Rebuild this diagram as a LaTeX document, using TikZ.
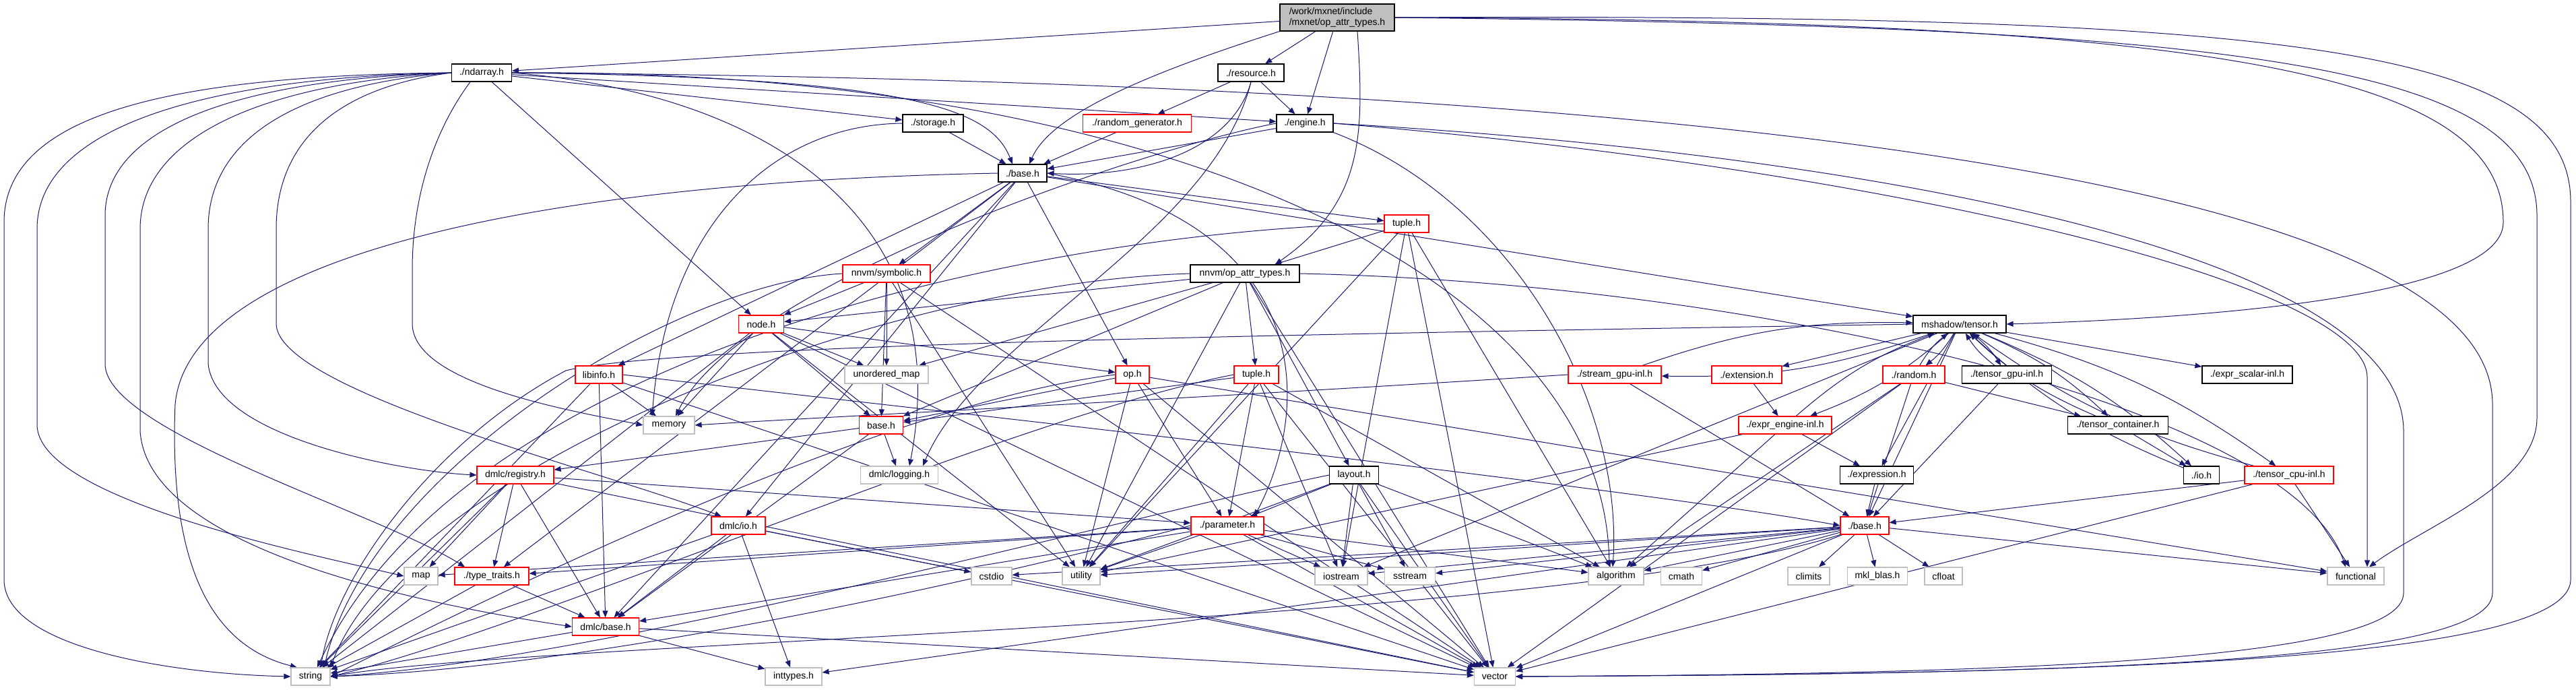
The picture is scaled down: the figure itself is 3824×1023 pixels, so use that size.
\documentclass[tikz,border=0pt]{standalone}
\usepackage{fontspec}
\newfontfamily\dxf{Liberation Sans}
\usetikzlibrary{arrows.meta,calc}
\definecolor{edgec}{RGB}{25,25,112}
\definecolor{graybd}{RGB}{191,191,191}
\definecolor{mainfill}{RGB}{191,191,191}
\pgfdeclarelayer{bg}
\pgfsetlayers{bg,main}
\begin{document}
\begin{tikzpicture}[x=1pt,y=1pt,
 box/.style={rectangle, draw, minimum height=26pt, inner sep=0pt, line width=1.2pt, font=\dxf\fontsize{14pt}{16pt}\selectfont, fill=white},
 rb/.style={box, draw=red},
 bb/.style={box, draw=black},
 gb/.style={box, draw=graybd},
 e/.style={draw=edgec, line width=1pt, -{Triangle[length=10pt,width=8pt]}}]
\useasboundingbox (0,0) rectangle (3824,-1023);
\node[bb, fill=mainfill, minimum width=170pt, minimum height=40pt, align=left] (main) at (1985,-26) {/work/mxnet/include\\/mxnet/op\_attr\_types.h};
\node[bb, minimum width=89pt] (ndarray) at (715,-108) {./ndarray.h};
\node[bb, minimum width=98pt] (resource) at (1857,-108) {./resource.h};
\node[bb, minimum width=90pt] (storage) at (1385,-183) {./storage.h};
\node[rb, minimum width=161pt] (randgen) at (1688,-183) {./random\_generator.h};
\node[bb, minimum width=84pt] (engine) at (1937,-183) {./engine.h};
\node[bb, minimum width=72pt] (mxbase) at (1518,-257) {./base.h};
\node[rb, minimum width=66pt] (tuple1) at (2088,-332) {tuple.h};
\node[rb, minimum width=130pt] (symbolic) at (1316,-406) {nnvm/symbolic.h};
\node[bb, minimum width=162pt] (nnvmopattr) at (1848,-406) {nnvm/op\_attr\_types.h};
\node[rb, minimum width=67pt] (nodeh) at (1130,-481) {node.h};
\node[bb, minimum width=138pt] (tensor) at (2909,-481) {mshadow/tensor.h};
\node[rb, minimum width=70pt] (libinfo) at (889,-556) {libinfo.h};
\node[gb, minimum width=124pt] (unordered) at (1316,-556) {unordered\_map};
\node[rb, minimum width=50pt] (oph) at (1681,-556) {op.h};
\node[rb, minimum width=66pt] (tuple2) at (1865,-556) {tuple.h};
\node[rb, minimum width=138pt] (streamgpu) at (2397,-556) {./stream\_gpu-inl.h};
\node[rb, minimum width=104pt] (extension) at (2593,-556) {./extension.h};
\node[rb, minimum width=92pt] (random) at (2841,-556) {./random.h};
\node[bb, minimum width=133pt] (tensorgpu) at (2979,-556) {./tensor\_gpu-inl.h};
\node[bb, minimum width=134pt] (exprscalar) at (3336,-556) {./expr\_scalar-inl.h};
\node[gb, minimum width=76pt] (memory) at (993,-631) {memory};
\node[rb, minimum width=65pt] (nnvmbase) at (1308,-631) {base.h};
\node[rb, minimum width=138pt] (exprengine) at (2650,-631) {./expr\_engine-inl.h};
\node[bb, minimum width=149pt] (tensorcontainer) at (3144,-631) {./tensor\_container.h};
\node[rb, minimum width=114pt] (registry) at (765,-705) {dmlc/registry.h};
\node[gb, minimum width=115pt] (logging) at (1335,-705) {dmlc/logging.h};
\node[bb, minimum width=73pt] (layout) at (2010,-705) {layout.h};
\node[bb, minimum width=109pt] (expression) at (2786,-705) {./expression.h};
\node[bb, minimum width=53pt] (ioh) at (3268,-705) {./io.h};
\node[rb, minimum width=132pt] (tensorcpu) at (3398,-705) {./tensor\_cpu-inl.h};
\node[rb, minimum width=80pt] (dmlcio) at (1096,-780) {dmlc/io.h};
\node[rb, minimum width=108pt] (parameter) at (1822,-780) {./parameter.h};
\node[rb, minimum width=72pt] (msbase) at (2768,-780) {./base.h};
\node[gb, minimum width=50pt] (map) at (625,-855) {map};
\node[rb, minimum width=110pt] (typetraits) at (730,-855) {./type\_traits.h};
\node[gb, minimum width=60pt] (cstdio) at (1472,-855) {cstdio};
\node[gb, minimum width=56pt] (utility) at (1605,-855) {utility};
\node[gb, minimum width=78pt] (iostream) at (1991,-855) {iostream};
\node[gb, minimum width=75pt] (sstream) at (2093,-855) {sstream};
\node[gb, minimum width=82pt] (algorithm) at (2399,-855) {algorithm};
\node[gb, minimum width=61pt] (cmath) at (2496,-855) {cmath};
\node[gb, minimum width=62pt] (climits) at (2685,-855) {climits};
\node[gb, minimum width=89pt] (mklblas) at (2787,-855) {mkl\_blas.h};
\node[gb, minimum width=56pt] (cfloat) at (2885,-855) {cfloat};
\node[gb, minimum width=84pt] (functional) at (3497,-855) {functional};
\node[rb, minimum width=99pt] (dmlcbase) at (899,-930) {dmlc/base.h};
\node[gb, minimum width=58pt] (string) at (461,-1004) {string};
\node[gb, minimum width=84pt] (inttypes) at (1178,-1004) {inttypes.h};
\node[gb, minimum width=61pt] (vector) at (2219,-1004) {vector};
\begin{pgfonlayer}{bg}
\foreach \a/\b in {main/ndarray, main/resource, main/engine,
 ndarray/storage, ndarray/engine, ndarray/nodeh,
 resource/randgen, resource/engine,
 storage/mxbase, randgen/mxbase, engine/mxbase,
 mxbase/symbolic, mxbase/oph, mxbase/tuple1, mxbase/tensor, mxbase/libinfo, mxbase/dmlcio, mxbase/typetraits, mxbase/dmlcbase,
 tuple1/nnvmopattr, tuple1/iostream, tuple1/algorithm, tuple1/vector, tuple1/utility,
 symbolic/nodeh, symbolic/unordered, symbolic/nnvmbase, symbolic/vector, symbolic/utility,
 nnvmopattr/nodeh, nnvmopattr/unordered, nnvmopattr/nnvmbase, nnvmopattr/tuple2, nnvmopattr/layout, nnvmopattr/utility, nnvmopattr/vector,
 nodeh/oph, nodeh/nnvmbase, nodeh/memory, nodeh/unordered, nodeh/string, nodeh/vector, nodeh/utility,
 libinfo/dmlcbase, libinfo/memory, libinfo/string, libinfo/vector,
 oph/nnvmbase, oph/parameter, oph/utility, oph/vector, oph/functional,
 tuple2/nnvmbase, tuple2/parameter, tuple2/utility, tuple2/iostream, tuple2/algorithm, tuple2/vector,
 nnvmbase/logging, nnvmbase/registry, nnvmbase/dmlcbase,
 registry/map, registry/typetraits, registry/string, registry/dmlcbase, registry/vector, registry/parameter,
 layout/parameter, layout/iostream, layout/sstream, layout/algorithm, layout/vector, layout/utility,
 dmlcio/cstdio, dmlcio/inttypes, dmlcio/string, dmlcio/vector, dmlcio/dmlcbase,
 parameter/map, parameter/typetraits, parameter/dmlcbase, parameter/vector, parameter/utility, parameter/iostream, parameter/sstream, parameter/algorithm,
 typetraits/dmlcbase, typetraits/string,
 dmlcbase/string, dmlcbase/vector, dmlcbase/inttypes,
 tensor/msbase, tensor/expression, tensor/exprscalar, tensor/extension, tensor/iostream,
 streamgpu/msbase, extension/exprengine,
 random/msbase, random/tensorcontainer, random/algorithm, random/vector,
 exprengine/expression, exprengine/utility, exprengine/algorithm,
 expression/msbase,
 msbase/climits, msbase/mklblas, msbase/cfloat, msbase/cmath, msbase/algorithm, msbase/functional, msbase/sstream, msbase/cstdio, msbase/utility, msbase/vector, msbase/inttypes, msbase/iostream,
 tensorgpu/msbase, tensorcontainer/ioh,
 tensorcpu/msbase, tensorcpu/functional, tensorcpu/vector}
 {\draw[e] (\a) -- (\b);}
\foreach \b in {streamgpu, tensorgpu, random, tensorcontainer, ioh, tensorcpu, exprengine}
 {\draw[e] (tensor) to[bend left=10] (\b);
  \draw[e] (\b) to[bend left=10] (tensor);}
% main
\draw[e] (main.south west) .. controls (1700,-110) and (1560,-170) .. ($(mxbase.north)+(10,0)$);
\draw[e] ($(main.south)+(30,0)$) .. controls (2025,-200) and (2025,-300) .. ($(nnvmopattr.north)+(45,0)$);
\draw[e] (main.east) .. controls (3300,-30) and (3716,-110) .. (3716,-330) .. controls (3716,-430) and (3350,-470) .. (tensor.east);
\draw[e] (main.east) .. controls (3400,-20) and (3816,-70) .. (3816,-300) -- (3816,-860) .. controls (3816,-990) and (3000,-1000) .. (vector.east);
\draw[e] (main.east) .. controls (3300,-40) and (3766,-90) .. (3766,-320) -- (3766,-620) .. controls (3766,-720) and (3600,-780) .. ($(functional.north)+(20,0)$);
% ndarray
\draw[e] (ndarray.east) .. controls (1350,-115) and (1470,-160) .. ($(mxbase.north)+(-15,0)$);
\draw[e] (ndarray.west) .. controls (250,-112) and (6,-170) .. (6,-330) -- (6,-860) .. controls (6,-960) and (250,-1000) .. (string.west);
\draw[e] (ndarray.west) .. controls (300,-115) and (55,-190) .. (55,-340) -- (55,-630) .. controls (55,-740) and (450,-820) .. (map.west);
\draw[e] (ndarray.west) .. controls (350,-118) and (156,-190) .. (156,-320) -- (156,-540) .. controls (156,-640) and (560,-760) .. ($(typetraits.north)+(-40,0)$);
\draw[e] (ndarray.west) .. controls (400,-122) and (208,-200) .. (208,-340) -- (208,-640) .. controls (220,-820) and (650,-900) .. (dmlcbase.west);
\draw[e] (ndarray.west) .. controls (450,-126) and (309,-200) .. (309,-340) -- (309,-540) .. controls (320,-650) and (600,-700) .. (registry.west);
\draw[e] (ndarray.west) .. controls (500,-130) and (410,-210) .. (410,-340) -- (410,-480) .. controls (410,-580) and (900,-700) .. ($(dmlcio.north)+(-25,0)$);
\draw[e] ($(ndarray.south)+(-17,0)$) .. controls (640,-200) and (612,-300) .. (612,-400) -- (612,-480) .. controls (612,-570) and (850,-610) .. (memory.west);
\draw[e] (ndarray.east) .. controls (1150,-140) and (1420,-330) .. ($(logging.north)+(15,0)$);
\draw[e] (ndarray.east) .. controls (1700,-100) and (2380,-400) .. ($(algorithm.north)+(-10,0)$);
\draw[e] (ndarray.east) .. controls (2400,-120) and (3700,-250) .. (3700,-600) -- (3700,-880) .. controls (3700,-990) and (3000,-1000) .. (vector.east);
% resource, storage, engine
\draw[e] (resource.south) .. controls (1830,-220) and (1700,-265) .. (mxbase.east);
\draw[e] (resource.south) .. controls (1800,-350) and (1450,-500) .. ($(logging.north)+(35,0)$);
\draw[e] (storage.west) .. controls (1150,-185) and (990,-330) .. ($(memory.north)+(-25,0)$);
\draw[e] (engine.west) .. controls (1700,-220) and (1100,-420) .. ($(memory.north)+(10,0)$);
\draw[e] (engine.east) .. controls (2800,-230) and (3568,-380) .. (3568,-640) -- (3568,-880) .. controls (3568,-980) and (3000,-1000) .. (vector.east);
\draw[e] (engine.east) .. controls (2800,-250) and (3514,-420) .. (3514,-560) -- ($(functional.north)+(17,0)$);
\draw[e] (engine.south east) .. controls (2250,-300) and (2410,-600) .. ($(algorithm.north)+(-5,0)$);
% mxbase
\draw[e] (mxbase.east) .. controls (1950,-330) and (1950,-600) .. ($(parameter.north)+(40,0)$);
\draw[e] (mxbase.west) .. controls (800,-270) and (280,-380) .. (260,-600) .. controls (250,-850) and (320,-960) .. ($(string.north)+(-20,0)$);
% long edges to string
\draw[e] (tuple1.west) .. controls (1600,-340) and (700,-500) .. ($(string.north)+(10,0)$);
\draw[e] (symbolic.west) .. controls (1000,-420) and (550,-700) .. ($(string.north)+(20,0)$);
\draw[e] (nnvmopattr.west) .. controls (1300,-420) and (600,-700) .. (string.north east);
\draw[e] (oph.west) .. controls (1300,-600) and (700,-900) .. (string.east);
\draw[e] (tuple2.west) .. controls (1500,-620) and (800,-930) .. (string.east);
\draw[e] (layout.west) .. controls (1700,-760) and (900,-980) .. (string.east);
\draw[e] (parameter.west) .. controls (1500,-850) and (900,-990) .. (string.east);
\draw[e] (tensor.west) .. controls (2000,-495) and (1000,-510) .. (840,-550) .. controls (650,-650) and (500,-850) .. ($(string.north)+(15,0)$);
\draw[e] (msbase.south west) .. controls (2300,-930) and (800,-950) .. (string.east);
% others
\draw[e] (nnvmopattr.east) .. controls (2600,-420) and (3400,-600) .. ($(functional.north)+(-15,0)$);
\draw[e] (streamgpu.west) .. controls (1800,-590) and (1200,-620) .. (memory.east);
\draw[e] (libinfo.east) .. controls (1300,-600) and (2400,-720) .. (msbase.west);
\end{pgfonlayer}
\end{tikzpicture}
\end{document}
